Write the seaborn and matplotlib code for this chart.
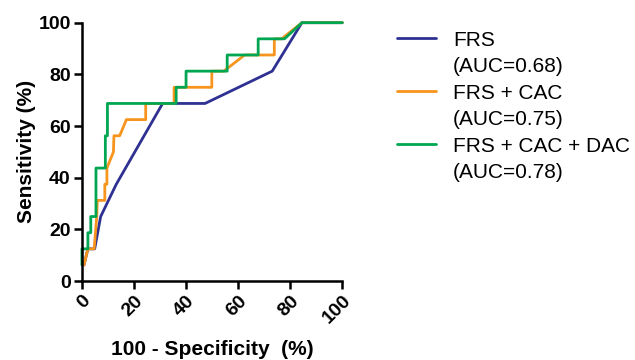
import pandas as pd
import matplotlib.pyplot as plt
import seaborn as sns
from matplotlib.lines import Line2D

# ROC curve points (100 - specificity, sensitivity), in %
frs_x = [0.8, 2.3, 4.9, 7.2, 13.2, 31.0, 47.3, 73.1, 84.5, 100]
frs_y = [6.25, 12.5, 12.5, 25, 37.5, 68.75, 68.75, 81.25, 100, 100]

cac_x = [0.8, 2.3, 4.7, 5.7, 5.9, 8.8, 8.8, 9.6, 9.6, 12.1, 12.3, 14.5, 17.1, 24.5, 24.5,
         35.4, 35.4, 49.9, 49.9, 54.5, 62.5, 73.9, 73.9, 76.7, 84.5, 100]
cac_y = [6.25, 12.5, 12.5, 25, 31.25, 31.25, 37.5, 37.5, 43.75, 50, 56.25, 56.25, 62.5, 62.5, 68.75,
         68.75, 75, 75, 81.25, 81.25, 87.5, 87.5, 93.75, 93.75, 100, 100]

dac_x = [0, 0, 2.3, 2.3, 3.4, 3.4, 5.4, 5.4, 9.0, 9.0, 9.8, 9.8, 36.2, 36.2, 40, 40,
         55.8, 55.8, 67.7, 67.7, 77.8, 84.5, 100]
dac_y = [6.25, 12.5, 12.5, 18.75, 18.75, 25, 25, 43.75, 43.75, 56.25, 56.25, 68.75, 68.75, 75, 75, 81.25,
         81.25, 87.5, 87.5, 93.75, 93.75, 100, 100]

models = ['FRS', 'FRS + CAC', 'FRS + CAC + DAC']
aucs = ['(AUC=0.68)', '(AUC=0.75)', '(AUC=0.78)']
colors = {'FRS': '#2E3192', 'FRS + CAC': '#F7941D', 'FRS + CAC + DAC': '#00A651'}

frames = []
for name, xs, ys in [('FRS', frs_x, frs_y), ('FRS + CAC', cac_x, cac_y), ('FRS + CAC + DAC', dac_x, dac_y)]:
    frames.append(pd.DataFrame({'x': xs, 'y': ys, 'model': name}))
df = pd.concat(frames, ignore_index=True)

sns.set_style('ticks')
plt.rcParams['font.family'] = ['Liberation Sans', 'DejaVu Sans']
plt.rcParams.update({'text.color': 'black', 'axes.labelcolor': 'black',
                     'xtick.color': 'black', 'ytick.color': 'black', 'axes.edgecolor': 'black'})

fig = plt.figure(figsize=(6.35, 3.6), dpi=100)
ax = fig.add_axes([0.129, 0.219, 0.41, 0.718])

sns.lineplot(data=df, x='x', y='y', hue='model', palette=colors, sort=False,
             estimator=None, units='model', linewidth=2.0, ax=ax, legend=False, clip_on=False)

ax.set_xlim(0, 100)
ax.set_ylim(0, 100)
ax.set_xticks(range(0, 101, 20))
ax.set_yticks(range(0, 101, 20))
sns.despine(ax=ax)
for side in ['left', 'bottom']:
    ax.spines[side].set_linewidth(1.8)
ax.tick_params(width=1.8, length=6, direction='out', labelsize=14, pad=2)
for lab in ax.get_xticklabels():
    lab.set_rotation(45)
    lab.set_ha('right')
    lab.set_rotation_mode('anchor')
    lab.set_fontweight('bold')
for lab in ax.get_yticklabels():
    lab.set_fontweight('bold')

ax.set_xlabel('100 - Specificity  (%)', fontsize=15, fontweight='bold', labelpad=9)
ax.set_ylabel('Sensitivity (%)', fontsize=15, fontweight='bold', labelpad=2)

handles, labels = [], []
for m, a in zip(models, aucs):
    handles.append(Line2D([], [], color=colors[m], lw=2.0))
    labels.append(m)
    handles.append(Line2D([], [], color='none', lw=0))
    labels.append(a)
fig.legend(handles, labels, loc='upper left', bbox_to_anchor=(0.625, 0.915), frameon=False,
           fontsize=15, handlelength=1.9, handletextpad=0.8, labelspacing=0.36,
           borderaxespad=0, borderpad=0)

plt.savefig('out.png', dpi=100)
